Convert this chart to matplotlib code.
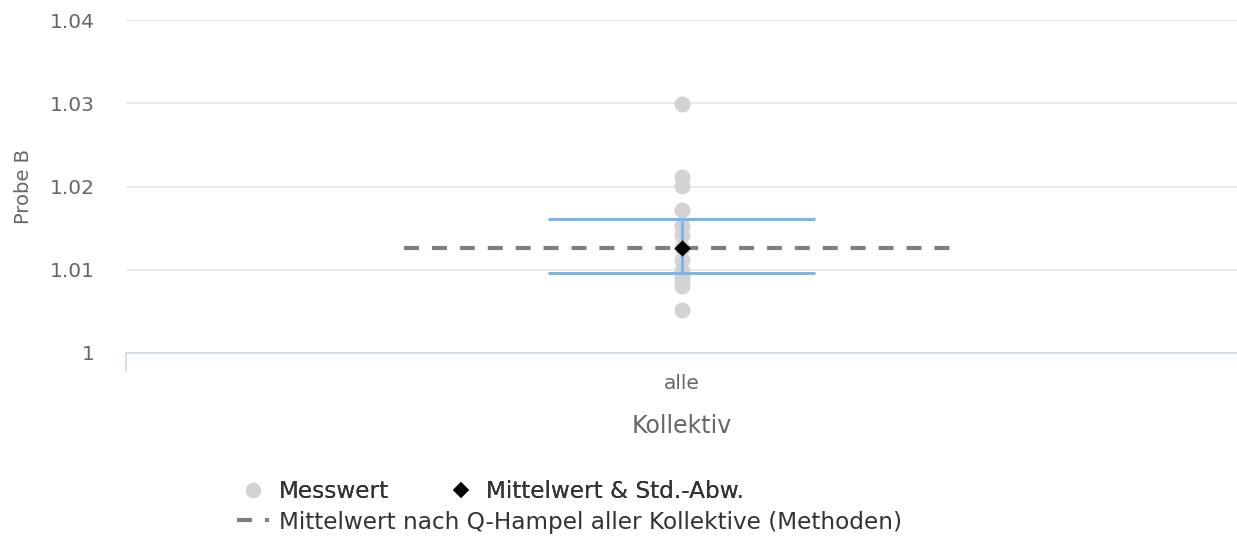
import matplotlib
matplotlib.use("Agg")
import matplotlib.pyplot as plt
from matplotlib.lines import Line2D

plt.rcParams['font.family'] = ['DejaVu Sans']

categories = ["alle"]
messwerte = [1.0299, 1.0211, 1.0201, 1.0172, 1.0152, 1.0142, 1.0126, 1.0112,
             1.0098, 1.0090, 1.0085, 1.0080, 1.0052]
mittelwert = 1.0126
std_low = 1.00957
std_high = 1.01615
hampel = 1.0126
yticks = [1.00, 1.01, 1.02, 1.03, 1.04]
ytick_labels = ["1", "1.01", "1.02", "1.03", "1.04"]

fig = plt.figure(figsize=(12.37, 5.37), dpi=100)
ax = fig.add_axes([126/1237, 1 - 353/537, (1237-126)/1237, (353-20)/537])

x0 = 0
dash = (0, (3.6, 3.1))
ax.scatter([x0]*len(messwerte), messwerte, s=16**2*0.52, color="#d3d3d3", zorder=2, linewidths=0)
ax.hlines(hampel, x0-0.25, x0+0.25, colors="#808080", linewidth=3, linestyles=dash, zorder=3)
ax.vlines(x0, std_low, std_high, colors="#7cb5ec", linewidth=2.2, zorder=4)
ax.hlines([std_low, std_high], x0-0.12, x0+0.12, colors="#7cb5ec", linewidth=2.2, zorder=4)
ax.scatter([x0], [mittelwert], marker="D", s=70, color="black", zorder=5, linewidths=0)

ax.set_xlim(-0.5, 0.5)
ax.set_ylim(1.0, 1.04)
ax.set_yticks(yticks)
ax.set_yticklabels(ytick_labels)
ax.set_xticks([x0])
ax.set_xticklabels(categories)
ax.grid(axis="y", color="#e6e6e6", linewidth=1.2)
ax.set_axisbelow(True)
for s in ["top", "right", "left"]:
    ax.spines[s].set_visible(False)
ax.spines["bottom"].set_color("#ccd6eb")
ax.spines["bottom"].set_linewidth(1.2)
ax.tick_params(axis="y", length=0, pad=22.3, labelsize=14.5, labelcolor="#666666")
ax.tick_params(axis="x", length=0, pad=15, labelsize=14.5, labelcolor="#666666")
ax.set_ylabel("Probe B", fontsize=14, color="#666666", labelpad=12)
ax.set_xlabel("Kollektiv", fontsize=17, color="#666666", labelpad=15)
# small tick at left end of x axis
ax.plot([-0.5, -0.5], [0, -0.055], transform=ax.get_xaxis_transform(), color="#ccd6eb",
        linewidth=1.2, clip_on=False)

h1 = Line2D([], [], linestyle="none", marker="o", markersize=11, color="#d3d3d3", markeredgewidth=0)
h2 = Line2D([], [], linestyle="none", marker="D", markersize=8, color="black", markeredgewidth=0)
h3 = Line2D([], [], color="#808080", linewidth=3, linestyle=dash)
leg1 = fig.legend([h1, h2], ["Messwert", "Mittelwert & Std.-Abw."], ncol=2, loc="center left",
                  bbox_to_anchor=(216/1237, 1 - 492/537), frameon=False, fontsize=16.7,
                  handlelength=1.4, handletextpad=0.4, columnspacing=2.4, labelcolor="#333333")
leg2 = fig.legend([h3], ["Mittelwert nach Q-Hampel aller Kollektive (Methoden)"], loc="center left",
                  bbox_to_anchor=(216/1237, 1 - 522/537), frameon=False, fontsize=16.7,
                  handlelength=1.4, handletextpad=0.4, labelcolor="#333333")
fig.add_artist(leg1)

fig.savefig("out.png", dpi=100)
